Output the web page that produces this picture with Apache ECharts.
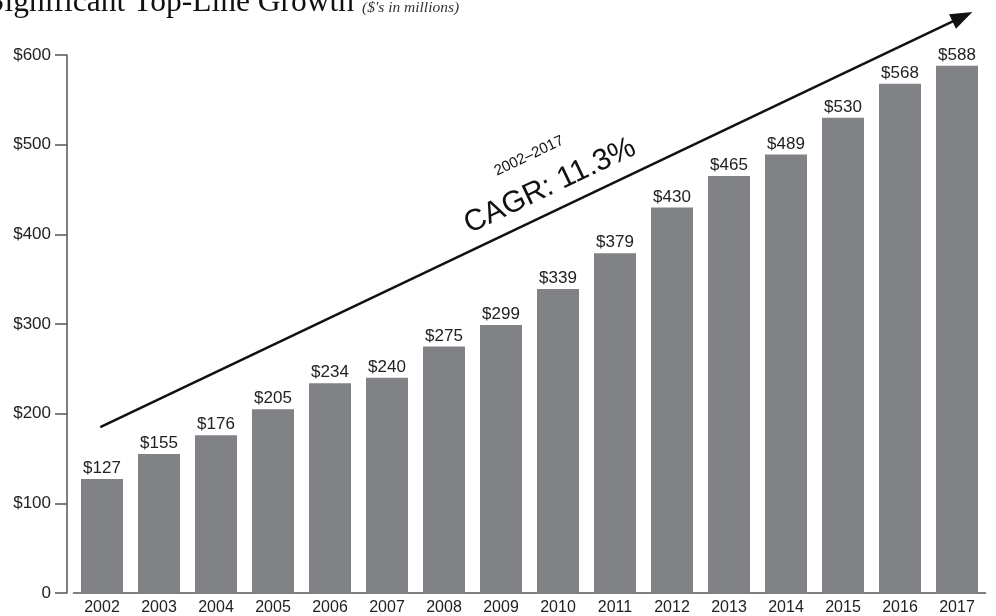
<!DOCTYPE html>
<html><head><meta charset="utf-8">
<script src="https://cdn.jsdelivr.net/npm/echarts@6/dist/echarts.min.js"></script>
<style>html,body{margin:0;padding:0;background:#fff}#c{width:996px;height:616px}</style>
</head><body><div id="c"></div>
<script>
const years = ['2002','2003','2004','2005','2006','2007','2008','2009','2010','2011','2012','2013','2014','2015','2016','2017'];
const revenue = [127,155,176,205,234,240,275,299,339,379,430,465,489,530,568,588];
const yTicks = [0,100,200,300,400,500,600];
const trendStart = [-0.03,185];
const trendEnd = [15.27,648];

const chart = echarts.init(document.getElementById('c'));
chart.setOption({
  animation:false,
  grid:{left:73.5,right:10.5,top:55,bottom:22},
  xAxis:[{
    type:'category', data:years,
    axisLine:{lineStyle:{color:'#555',width:1.5}},
    axisTick:{show:false},
    axisLabel:{color:'#222',fontSize:16,fontFamily:'Liberation Sans',margin:7}
  },{
    type:'value', min:-0.5, max:15.5, show:false
  }],
  yAxis:{
    type:'value', min:yTicks[0], max:yTicks[yTicks.length-1], interval:100, offset:6.5,
    splitLine:{show:false},
    axisLine:{show:true,onZero:false,lineStyle:{color:'#555',width:1.5}},
    axisTick:{show:true,length:12,lineStyle:{color:'#555',width:1.5}},
    axisLabel:{color:'#222',fontSize:17,fontFamily:'Liberation Sans',margin:16,
      formatter:v=> v===0?'0':'$'+v}
  },
  series:[{
    type:'bar', data:revenue, barWidth:42,
    itemStyle:{color:'#818286'},
    label:{show:true,position:'top',distance:2,color:'#222',fontSize:17,fontFamily:'Liberation Sans',
      formatter:p=>'$'+p.value}
  },{
    type:'line', xAxisIndex:1, data:[], symbol:'none'
  }]
});

const p0 = chart.convertToPixel({xAxisIndex:1,yAxisIndex:0}, trendStart);
const p1 = chart.convertToPixel({xAxisIndex:1,yAxisIndex:0}, trendEnd);
const dx = p1[0]-p0[0], dy = p1[1]-p0[1], len = Math.hypot(dx,dy);
const ux = dx/len, uy = dy/len, headL = 22, headW = 8;
const bx = p1[0]-ux*headL, by = p1[1]-uy*headL;
const ang = Math.atan2(-dy, dx);
chart.setOption({
  graphic:[
    {type:'text',left:-13,top:-13,style:{text:'Significant Top-Line Growth',fontFamily:'Liberation Serif',fontSize:31.5,fill:'#111'}},
    {type:'text',left:362,top:0,style:{text:"($'s in millions)",fontFamily:'Liberation Serif',fontStyle:'italic',fontSize:15.5,fill:'#333'}},
    {type:'line',shape:{x1:p0[0],y1:p0[1],x2:bx+ux*2,y2:by+uy*2},style:{stroke:'#111',lineWidth:2.5}},
    {type:'polygon',shape:{points:[[p1[0],p1[1]],[bx-uy*headW,by+ux*headW],[bx+uy*headW,by-ux*headW]]},style:{fill:'#111'}},
    {type:'text',x:529,y:156,rotation:ang,style:{text:'2002–2017',fontFamily:'Liberation Sans',fontSize:15,fill:'#111',align:'center',verticalAlign:'middle'}},
    {type:'text',x:550,y:186,rotation:ang,style:{text:'CAGR: 11.3%',fontFamily:'Liberation Sans',fontSize:30,fill:'#111',align:'center',verticalAlign:'middle'}}
  ]
});
</script></body></html>
